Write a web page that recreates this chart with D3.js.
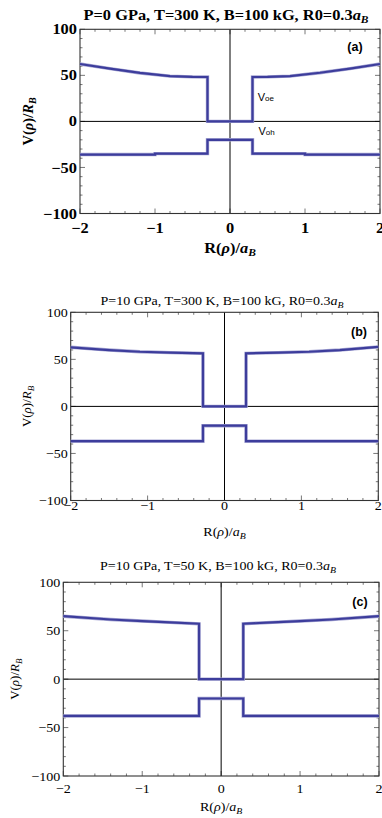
<!DOCTYPE html>
<html><head><meta charset="utf-8">
<script src="https://cdn.jsdelivr.net/npm/d3@7"></script>
<style>body{margin:0;background:#fff}svg{display:block}</style>
</head><body>
<script>
// ---- data ----
const xTicks = [-2, -1, 0, 1, 2];
const yTicks = [-100, -50, 0, 50, 100];
const xTickLabels = ["\u22122", "\u22121", "0", "1", "2"];
const yTickLabels = ["\u2212100", "\u221250", "0", "50", "100"];
const panelTags = ["(a)", "(b)", "(c)"];
const titlesMain = ["P=0 GPa, T=300 K, B=100 kG, R0=0.3", "P=10 GPa, T=300 K, B=100 kG, R0=0.3", "P=10 GPa, T=50 K, B=100 kG, R0=0.3"];

// V_oe (x, V) for each panel
const voeA = [[-2,62.3],[-1.6,57.3],[-1.2,52.6],[-0.8,49.2],[-0.5,48.3],[-0.3,48.2],[-0.3,0],[0.3,0],[0.3,48.2],[0.5,48.3],[0.8,49.2],[1.2,52.8],[1.6,57.3],[2,62.3]];
const voeB = [[-2,62.8],[-1.5,59.9],[-1.1,58.1],[-0.7,57.2],[-0.28,56.4],[-0.28,0],[0.28,0],[0.28,56.4],[0.7,57.2],[1.1,58.1],[1.5,59.9],[2,63.2]];
const voeC = [[-2,65],[-1.4,61.6],[-1,60],[-0.65,58.6],[-0.28,57.2],[-0.28,0],[0.28,0],[0.28,57.2],[0.65,58.6],[1,60],[1.4,61.6],[2,65]];
// V_oh
const vohA = [[-2,-36],[-1,-36],[-1,-35],[-0.3,-35],[-0.3,-20],[0.3,-20],[0.3,-35],[1,-35],[1,-36],[2,-36]];
const vohB = [[-2,-37],[-0.28,-37],[-0.28,-20.5],[0.28,-20.5],[0.28,-37],[2,-37]];
const vohC = [[-2,-38],[-0.28,-38],[-0.28,-20],[0.28,-20],[0.28,-38],[2,-38]];

// ---- layout ----
const W = 382, H = 818;
const panels = [
  {voe: voeA, voh: vohA, left: 80, right: 380, top: 29.3, bottom: 213.5, bold: true, fs: 14.5, sx: 1.13,
   titleX: 226, titleY: 20, tagX: 355, tagY: 51, ylabX: 33, xlabY: 253, tickLabY: 227.5, curveLabels: true},
  {voe: voeB, voh: vohB, left: 70.7, right: 378.3, top: 312.3, bottom: 500.5, bold: false, fs: 13, sx: 1.08,
   titleX: 222, titleY: 305, tagX: 359, tagY: 336, ylabX: 31, xlabY: 536, tickLabY: 505, curveLabels: false},
  {voe: voeC, voh: vohC, left: 63.3, right: 379, top: 582.3, bottom: 776, bold: false, fs: 13, sx: 1.08,
   titleX: 218, titleY: 569.5, tagX: 360, tagY: 606, ylabX: 19, xlabY: 811, tickLabY: 788, curveLabels: false}
];

const svg = d3.select("body").append("svg").attr("width", W).attr("height", H);
const serif = "'Liberation Serif', 'Times New Roman', serif";
const sans = "'Liberation Sans', Arial, sans-serif";
const lineColor = "#3d3d9c";

panels.forEach((p, i) => {
  const g = svg.append("g");
  const x = d3.scaleLinear().domain([-2, 2]).range([p.left, p.right]);
  const y = d3.scaleLinear().domain([-100, 100]).range([p.bottom, p.top]);
  const fw = p.bold ? "bold" : "normal";

  // minor/major ticks inward on all four sides
  const xMinor = d3.range(-2, 2.0001, 0.2).map(v => +v.toFixed(2));
  const yMinor = d3.range(-100, 100.001, 10);
  const tk = g.append("g").attr("stroke", "#555").attr("stroke-width", 0.8);
  xMinor.forEach(v => {
    const major = Math.abs(v - Math.round(v)) < 1e-6;
    const L = major ? 5 : 2.5;
    tk.append("line").attr("x1", x(v)).attr("x2", x(v)).attr("y1", p.bottom).attr("y2", p.bottom - L);
    tk.append("line").attr("x1", x(v)).attr("x2", x(v)).attr("y1", p.top).attr("y2", p.top + L);
  });
  yMinor.forEach(v => {
    const major = v % 50 === 0;
    const L = major ? 5 : 2.5;
    tk.append("line").attr("y1", y(v)).attr("y2", y(v)).attr("x1", p.left).attr("x2", p.left + L);
    tk.append("line").attr("y1", y(v)).attr("y2", y(v)).attr("x1", p.right).attr("x2", p.right - L);
  });

  // zero axes
  g.append("line").attr("x1", x(0)).attr("x2", x(0)).attr("y1", p.top).attr("y2", p.bottom)
    .attr("stroke", "#000").attr("stroke-width", 1);
  g.append("line").attr("x1", p.left).attr("x2", p.right).attr("y1", y(0)).attr("y2", y(0))
    .attr("stroke", "#000").attr("stroke-width", 1);

  // frame
  g.append("rect").attr("x", p.left).attr("y", p.top).attr("width", p.right - p.left).attr("height", p.bottom - p.top)
    .attr("fill", "none").attr("stroke", "#333").attr("stroke-width", 1.1);

  // curves
  const line = d3.line().x(d => x(d[0])).y(d => y(d[1]));
  [p.voe, p.voh].forEach(data => {
    g.append("path").attr("d", line(data)).attr("fill", "none")
      .attr("stroke", "#a8a8d4").attr("stroke-width", 3.4).attr("stroke-linejoin", "miter");
    g.append("path").attr("d", line(data)).attr("fill", "none")
      .attr("stroke", lineColor).attr("stroke-width", 2.2).attr("stroke-linejoin", "miter");
  });

  // y tick labels
  yTicks.forEach((v, j) => {
    g.append("text").attr("transform", `translate(${p.left - 3},${y(v)}) scale(${p.sx},1)`).attr("dy", "0.35em")
      .attr("text-anchor", "end").attr("font-family", serif).attr("font-weight", fw)
      .attr("font-size", p.fs).text(yTickLabels[j]);
  });
  // x tick labels
  xTicks.forEach((v, j) => {
    g.append("text").attr("transform", `translate(${x(v)},${p.tickLabY}) scale(${p.sx},1)`).attr("dy", "0.35em")
      .attr("text-anchor", "middle").attr("font-family", serif).attr("font-weight", fw)
      .attr("font-size", p.fs).text(xTickLabels[j]);
  });

  // title
  const t = g.append("text").attr("transform", `translate(${p.titleX},${p.titleY}) scale(${p.sx},1)`).attr("text-anchor", "middle")
    .attr("font-family", serif).attr("font-weight", fw).attr("font-size", p.fs);
  t.append("tspan").text(titlesMain[i]);
  t.append("tspan").attr("font-style", "italic").text("a");
  t.append("tspan").attr("font-style", "italic").attr("font-size", p.fs * 0.7).attr("dy", 3).text("B");

  // x axis label
  const xl = g.append("text").attr("transform", `translate(${x(0)},${p.xlabY}) scale(${p.sx},1)`).attr("text-anchor", "middle")
    .attr("font-family", serif).attr("font-weight", fw).attr("font-size", p.fs);
  xl.append("tspan").text("R(");
  xl.append("tspan").attr("font-style", "italic").text("\u03C1");
  xl.append("tspan").text(")/");
  xl.append("tspan").attr("font-style", "italic").text("a");
  xl.append("tspan").attr("font-style", "italic").attr("font-size", p.fs * 0.7).attr("dy", 3).text("B");

  // y axis label
  const yc = (p.top + p.bottom) / 2;
  const yl = g.append("text").attr("transform", `translate(${p.ylabX},${yc}) rotate(-90)`)
    .attr("text-anchor", "middle").attr("font-family", serif).attr("font-weight", fw).attr("font-size", p.fs);
  yl.append("tspan").text("V(");
  yl.append("tspan").attr("font-style", "italic").text("\u03C1");
  yl.append("tspan").text(")/");
  yl.append("tspan").attr("font-style", "italic").text("R");
  yl.append("tspan").attr("font-style", "italic").attr("font-size", p.fs * 0.7).attr("dy", 3).text("B");

  // panel tag
  g.append("text").attr("x", p.tagX).attr("y", p.tagY).attr("text-anchor", "middle")
    .attr("font-family", sans).attr("font-weight", "bold").attr("font-size", 12.5).text(panelTags[i]);

  // curve labels
  if (p.curveLabels) {
    const l1 = g.append("text").attr("x", x(0.37)).attr("y", y(22)).attr("font-family", sans).attr("font-size", 11);
    l1.append("tspan").text("V");
    l1.append("tspan").attr("font-size", 8).text("oe");
    const l2 = g.append("text").attr("x", x(0.38)).attr("y", y(-15)).attr("font-family", sans).attr("font-size", 11);
    l2.append("tspan").text("V");
    l2.append("tspan").attr("font-size", 8).text("oh");
  }
});
</script>
</body></html>
